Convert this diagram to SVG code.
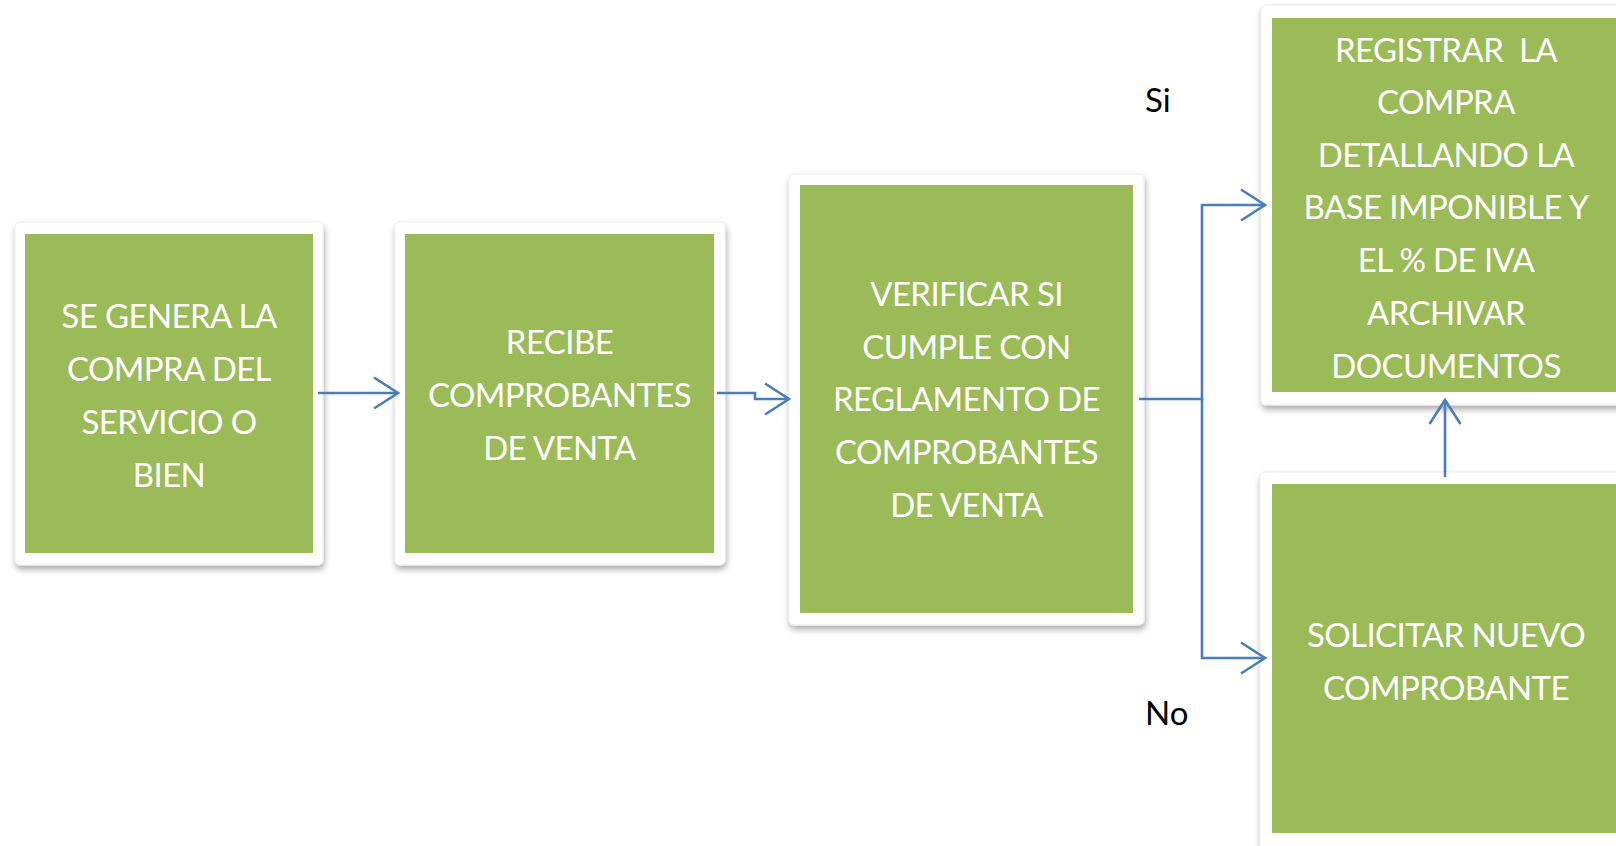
<svg xmlns="http://www.w3.org/2000/svg" width="1616" height="846" viewBox="0 0 1616 846">
  <defs>
    <filter id="shadow" x="-10%" y="-10%" width="120%" height="125%">
      <feDropShadow dx="1" dy="4" stdDeviation="3" flood-color="#000" flood-opacity="0.33"/>
    </filter>
    <marker id="arrow" markerUnits="userSpaceOnUse" markerWidth="32" markerHeight="38" viewBox="-28 -19 32 38" refX="0" refY="0" orient="auto">
      <path d="M-24,-15.5 L0,0 L-24,15.5" fill="none" stroke="#4A7EBB" stroke-width="2.6"/>
    </marker>
  </defs>
  <style>
    .frame { fill: #ffffff; stroke: #ececec; stroke-width: 1; filter: url(#shadow); }
    .box { fill: #9BBB59; }
    .lbl { font-family: Lato, "Liberation Sans", sans-serif; font-size: 33px; letter-spacing: -0.6px; fill: #ffffff; text-anchor: middle; }
    .tag { font-family: Lato, "Liberation Sans", sans-serif; font-size: 33px; fill: #000000; }
    .conn { fill: none; stroke: #4A7EBB; stroke-width: 2.6; marker-end: url(#arrow); }
  </style>
  <rect width="1616" height="846" fill="#ffffff"/>

  <g id="node1">
    <rect class="frame" x="15" y="222" width="308" height="343" rx="5"/>
    <rect class="box" x="25" y="234" width="288" height="319"/>
    <text class="lbl" x="169" y="328">SE GENERA LA</text>
    <text class="lbl" x="169" y="381">COMPRA DEL</text>
    <text class="lbl" x="169" y="434">SERVICIO O</text>
    <text class="lbl" x="169" y="487">BIEN</text>
  </g>

  <g id="node2">
    <rect class="frame" x="395" y="222" width="330" height="343" rx="5"/>
    <rect class="box" x="405" y="234" width="309" height="319"/>
    <text class="lbl" x="559.5" y="354">RECIBE</text>
    <text class="lbl" x="559.5" y="407">COMPROBANTES</text>
    <text class="lbl" x="559.5" y="460">DE VENTA</text>
  </g>

  <g id="node3">
    <rect class="frame" x="789" y="174" width="355" height="451" rx="5"/>
    <rect class="box" x="800" y="185" width="333" height="428"/>
    <text class="lbl" x="966.5" y="306">VERIFICAR SI</text>
    <text class="lbl" x="966.5" y="359">CUMPLE CON</text>
    <text class="lbl" x="966.5" y="411">REGLAMENTO DE</text>
    <text class="lbl" x="966.5" y="464">COMPROBANTES</text>
    <text class="lbl" x="966.5" y="517">DE VENTA</text>
  </g>

  <g id="node4">
    <rect class="frame" x="1261" y="5" width="380" height="400" rx="5"/>
    <rect class="box" x="1272" y="18" width="360" height="374"/>
    <text class="lbl" x="1446" y="62" xml:space="preserve">REGISTRAR  LA</text>
    <text class="lbl" x="1446" y="114">COMPRA</text>
    <text class="lbl" x="1446" y="167">DETALLANDO LA</text>
    <text class="lbl" x="1446" y="219">BASE IMPONIBLE Y</text>
    <text class="lbl" x="1446" y="272">EL % DE IVA</text>
    <text class="lbl" x="1446" y="325">ARCHIVAR</text>
    <text class="lbl" x="1446" y="378">DOCUMENTOS</text>
  </g>

  <g id="node5">
    <rect class="frame" x="1260" y="472" width="380" height="390" rx="5"/>
    <rect class="box" x="1272" y="484" width="360" height="349"/>
    <text class="lbl" x="1446" y="647">SOLICITAR NUEVO</text>
    <text class="lbl" x="1446" y="700">COMPROBANTE</text>
  </g>

  <g id="labels">
    <text class="tag" x="1145" y="112">Si</text>
    <text class="tag" x="1145" y="725">No</text>
  </g>

  <g id="connectors">
    <path class="conn" d="M318,393 H398"/>
    <path class="conn" d="M717,393 H755 V399 H789"/>
    <path class="conn" d="M1139,399 H1202 V205 H1265"/>
    <path class="conn" d="M1202,399 V658 H1265"/>
    <path class="conn" d="M1445,477 V400"/>
  </g>
</svg>
